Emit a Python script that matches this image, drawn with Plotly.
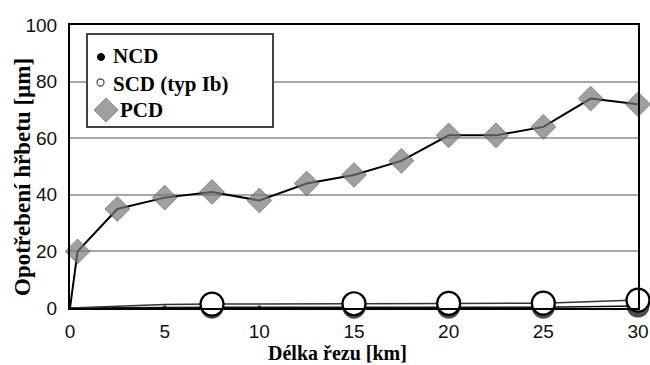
import plotly.graph_objects as go

pcd_x = [0, 0.4, 2.5, 5, 7.5, 10, 12.5, 15, 17.5, 20, 22.5, 25, 27.5, 30]
pcd_y = [0, 20, 35, 39, 41, 38, 44, 47, 52, 61, 61, 64, 74, 72]

scd_x = [0, 5, 7.5, 10, 15, 20, 25, 30]
scd_y = [0, 1.2, 1.4, 1.5, 1.5, 1.6, 1.7, 2.8]
scd_marked = [False, False, True, False, True, True, True, True]

ncd_x = [0, 5, 7.5, 10, 15, 20, 25, 30]
ncd_y = [0, 0.3, 0.3, 0.3, 0.3, 0.3, 0.3, 0.7]
ncd_marked = [False, False, True, False, True, True, True, True]

x_ticks = [0, 5, 10, 15, 20, 25, 30]
y_ticks = [0, 20, 40, 60, 80, 100]

legend_names = ["NCD", "SCD (typ Ib)", "PCD"]
x_title = "Délka řezu [km]"
y_title = "Opotřebení hřbetu [µm]"

# plot-area geometry (pixels) for the hand-drawn legend and titles
L, R, T, B = 70, 638, 25, 308
def px(x):
    return (x - L) / (R - L)
def py(y):
    return (B - y) / (B - T)

fig = go.Figure()

# NCD
fig.add_trace(go.Scatter(x=ncd_x, y=ncd_y, mode="lines+markers",
                         line=dict(color="#111", width=1.5),
                         marker=dict(symbol="circle",
                                     size=[23 if m else (4 if i > 0 else 0) for i, m in enumerate(ncd_marked)],
                                     color="black", line=dict(width=0)),
                         showlegend=False, cliponaxis=False))
# SCD
fig.add_trace(go.Scatter(x=scd_x, y=scd_y, mode="lines+markers",
                         line=dict(color="#333", width=1.5),
                         marker=dict(symbol="circle", size=[23 if m else 0 for m in scd_marked],
                                     color="#ffffff", opacity=1, line=dict(color="black", width=2.2)),
                         showlegend=False, cliponaxis=False))
# PCD
fig.add_trace(go.Scatter(x=pcd_x, y=pcd_y, mode="lines+markers",
                         line=dict(color="black", width=2),
                         marker=dict(symbol="diamond", size=[0] + [19] * (len(pcd_x) - 1),
                                     color="#787878", line=dict(color="#505050", width=1)),
                         showlegend=False, cliponaxis=False))

serif = "Liberation Serif, Times New Roman, serif"

shapes = [
    dict(type="rect", xref="paper", yref="paper", x0=px(87), x1=px(273), y0=py(127), y1=py(34),
         line=dict(color="#444", width=2), fillcolor="white", layer="above"),
    # NCD dot
    dict(type="circle", xref="paper", yref="paper", x0=px(97.5), x1=px(104.5), y0=py(60.5), y1=py(53.5),
         line=dict(color="black", width=1), fillcolor="black", layer="above"),
    # SCD open circle
    dict(type="circle", xref="paper", yref="paper", x0=px(97), x1=px(104), y0=py(86), y1=py(79),
         line=dict(color="#555", width=1.3), fillcolor="white", layer="above"),
    # PCD diamond
    dict(type="path", xref="paper", yref="paper",
         path=f"M {px(94)} {py(110)} L {px(106)} {py(98)} L {px(118)} {py(110)} L {px(106)} {py(122)} Z",
         line=dict(color="#888", width=1), fillcolor="#a0a0a0", layer="above"),
]

annotations = [
    dict(xref="paper", yref="paper", x=px(111), y=py(56), xanchor="left", yanchor="middle",
         text=f"<b>{legend_names[0]}</b>", showarrow=False, font=dict(family=serif, size=21, color="black")),
    dict(xref="paper", yref="paper", x=px(111), y=py(84), xanchor="left", yanchor="middle",
         text=f"<b>{legend_names[1]}</b>", showarrow=False, font=dict(family=serif, size=21, color="black")),
    dict(xref="paper", yref="paper", x=px(118), y=py(110), xanchor="left", yanchor="middle",
         text=f"<b>{legend_names[2]}</b>", showarrow=False, font=dict(family=serif, size=21, color="black")),
    # axis titles
    dict(xref="paper", yref="paper", x=px(337), y=py(353), xanchor="center", yanchor="middle",
         text=f"<b>{x_title}</b>", showarrow=False, font=dict(family=serif, size=20, color="black")),
    dict(xref="paper", yref="paper", x=px(22), y=py(177), xanchor="center", yanchor="middle",
         text=f"<b>{y_title}</b>", textangle=-90, showarrow=False,
         font=dict(family=serif, size=23, color="black")),
]

fig.update_layout(
    width=650, height=365,
    margin=dict(l=L, r=650 - R, t=T, b=365 - B, autoexpand=False),
    paper_bgcolor="white", plot_bgcolor="white",
    showlegend=False,
    shapes=shapes, annotations=annotations,
    font=dict(family="Liberation Sans, Arial, sans-serif", color="#111"),
    xaxis=dict(range=[0, 30], tickvals=x_ticks, showgrid=False, zeroline=False, automargin=False,
               showline=True, linecolor="black", linewidth=2, mirror=True,
               tickfont=dict(size=19, color="#111"), ticks="", ticklabelstandoff=5),
    yaxis=dict(range=[0, 100], tickvals=y_ticks, showgrid=True, gridcolor="#a8a8a8", gridwidth=1.5,
               zeroline=False, showline=True, linecolor="black", linewidth=2, mirror=True, automargin=False,
               tickfont=dict(size=19, color="#111"), ticks="", ticklabelstandoff=7),
)

fig.write_html("out.html")
